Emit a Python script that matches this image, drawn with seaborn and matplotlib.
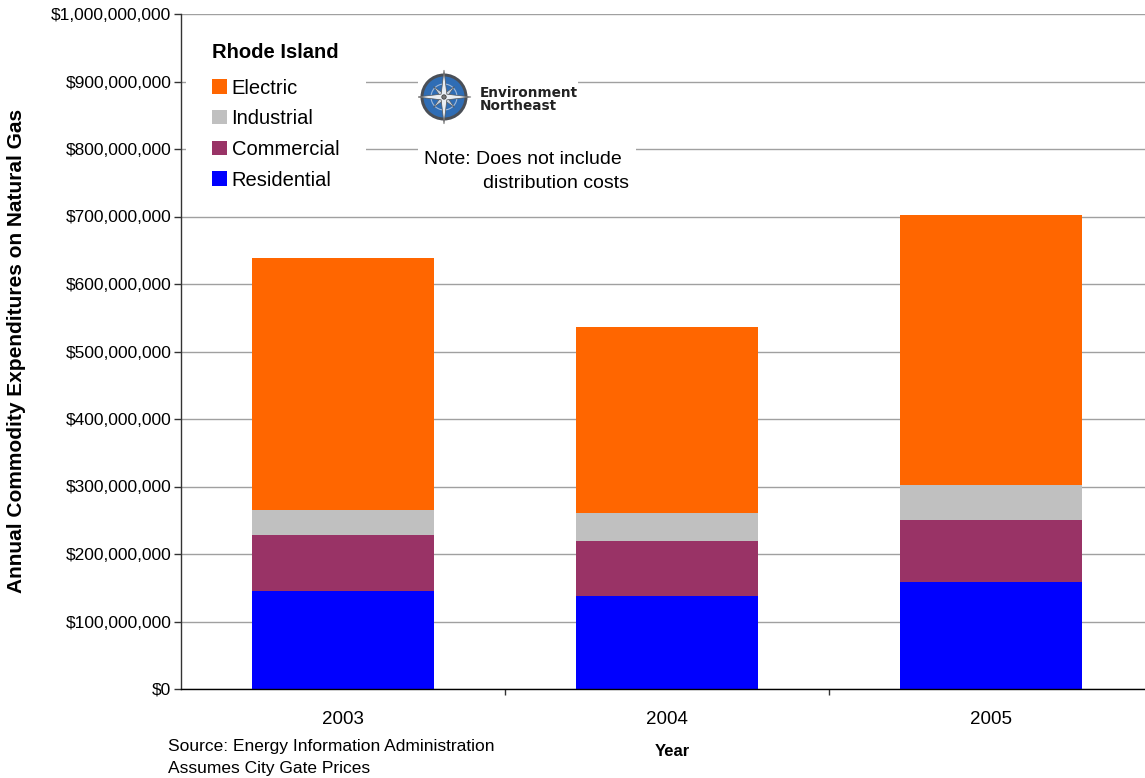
import numpy as np
import pandas as pd
import matplotlib
matplotlib.use("Agg")
import matplotlib.pyplot as plt
from matplotlib.patches import Rectangle, Circle, Polygon, Patch
from matplotlib.ticker import FuncFormatter, FixedLocator
import seaborn as sns

# Annual natural gas commodity expenditures, Rhode Island (US dollars)
years = ["2003", "2004", "2005"]
residential = [145_000_000, 138_000_000, 158_500_000]
commercial = [83_000_000, 81_000_000, 92_000_000]
industrial = [37_000_000, 42_000_000, 51_500_000]
electric = [373_500_000, 275_000_000, 400_000_000]

sectors = ["Residential", "Commercial", "Industrial", "Electric"]
colors = {"Electric": "#FF6600", "Industrial": "#C0C0C0",
          "Commercial": "#993366", "Residential": "#0000FF"}

df = pd.DataFrame({"Year": years, "Residential": residential,
                   "Commercial": commercial, "Industrial": industrial,
                   "Electric": electric})
cum = df[sectors].cumsum(axis=1)
cum["Year"] = df["Year"]

sns.set_style("white")
plt.rcParams["font.family"] = ["Liberation Sans", "DejaVu Sans"]
plt.rcParams["text.color"] = "black"
plt.rcParams["xtick.color"] = "black"
plt.rcParams["ytick.color"] = "black"

W, H = 1145, 778
fig = plt.figure(figsize=(W / 100, H / 100), dpi=100)


def fx(x):
    return x / W


def fy(y):
    return 1 - y / H


ax = fig.add_axes([fx(181), fy(689), fx(1153) - fx(181), fy(14) - fy(689)])

# stacked bars: draw cumulative totals from the top segment down
for s in reversed(sectors):
    sns.barplot(data=cum, x="Year", y=s, color=colors[s], width=0.56,
                errorbar=None, saturation=1, linewidth=0, edgecolor="none",
                ax=ax, zorder=2)

ax.set_xlim(-0.5, 2.5)
ax.set_ylim(0, 1_000_000_000)
ax.yaxis.set_major_locator(FixedLocator(np.arange(0, 1_000_000_001, 100_000_000)))
ax.yaxis.set_major_formatter(FuncFormatter(lambda v, p: f"${v:,.0f}"))
ax.set_axisbelow(True)
ax.grid(axis="y", color="#a0a0a0", lw=1)
ax.grid(axis="x", visible=False)

for side in ["top", "right"]:
    ax.spines[side].set_visible(False)
ax.spines["left"].set_color("#333333")
ax.spines["bottom"].set_color("#000000")
ax.spines["left"].set_linewidth(1)
ax.spines["bottom"].set_linewidth(1)

ax.tick_params(axis="y", left=True, length=5, width=1, color="#333333",
               labelsize=12.5, pad=2)
ax.set_xticks([0, 1, 2])
ax.set_xticklabels(years)
ax.tick_params(axis="x", which="major", length=0, labelsize=13.5, pad=16)
ax.set_xticks([0.5, 1.5, 2.5], minor=True)
ax.tick_params(axis="x", which="minor", bottom=True, length=4, width=1,
               color="#333333")

ax.set_xlabel("")
ax.set_ylabel("")
fig.text(fx(17), fy(351), "Annual Commodity Expenditures on Natural Gas",
         rotation=90, ha="center", va="center", fontsize=15,
         fontweight="bold")
fig.text(fx(672), fy(752), "Year", ha="center", va="center", fontsize=12,
         fontweight="bold")
fig.text(fx(168), fy(746), "Source: Energy Information Administration",
         ha="left", va="center", fontsize=12.5)
fig.text(fx(168), fy(769), "Assumes City Gate Prices",
         ha="left", va="center", fontsize=12.5)

# white panels behind the legend and the note
fig.add_artist(Rectangle((fx(186), fy(198)), fx(366) - fx(186),
                         fy(22) - fy(198), transform=fig.transFigure,
                         fc="white", ec="none", zorder=1))
fig.add_artist(Rectangle((fx(418), fy(196)), fx(636) - fx(418),
                         fy(138) - fy(196), transform=fig.transFigure,
                         fc="white", ec="none", zorder=1))

fig.text(fx(212), fy(53), "Rhode Island", ha="left", va="center",
         fontsize=14.5, fontweight="bold", zorder=3)
handles = [Patch(fc=colors[s], ec="none") for s in reversed(sectors)]
leg = fig.legend(handles, list(reversed(sectors)),
                 loc="upper left", bbox_to_anchor=(fx(212), fy(78.5)),
                 frameon=False, fontsize=14.5, borderpad=0, borderaxespad=0,
                 labelspacing=0.58, handlelength=0.72, handleheight=0.72,
                 handletextpad=0.25, alignment="left")
leg.set_zorder(3)

fig.text(fx(424), fy(159), "Note: Does not include", ha="left", va="center",
         fontsize=14, zorder=3)
fig.text(fx(483), fy(183), "distribution costs", ha="left", va="center",
         fontsize=14, zorder=3)

# Environment Northeast logo
lax = fig.add_axes([fx(418), fy(128), fx(578) - fx(418), fy(68) - fy(128)],
                   zorder=3)
lax.set_xlim(0, 160)
lax.set_ylim(0, 60)
lax.set_facecolor("white")
lax.set_xticks([])
lax.set_yticks([])
for sp in lax.spines.values():
    sp.set_visible(False)
cx, cy = 26, 31
lax.add_patch(Circle((cx, cy), 23.5, fc="#4a4f57", ec="none"))
lax.add_patch(Circle((cx, cy), 20.5, fc="#2f6db5", ec="none"))
lax.add_patch(Circle((cx, cy), 13, fc="none", ec="#9fb8d8", lw=0.8))


def star(r_long, r_short, angle0, n=4):
    pts = []
    for k in range(2 * n):
        a = angle0 + k * np.pi / n
        r = r_long if k % 2 == 0 else r_short
        pts.append((cx + r * np.cos(a), cy + r * np.sin(a)))
    return pts


lax.add_patch(Polygon(star(15, 3, np.pi / 4), fc="#c9d3df", ec="#555", lw=0.4))
lax.add_patch(Polygon(star(27, 4, np.pi / 2), fc="#e8edf3", ec="#555", lw=0.5))
lax.add_patch(Circle((cx, cy), 2.2, fc="#777", ec="#333", lw=0.5))
lax.text(62, 35, "Environment", ha="left", va="center", fontsize=9.8,
         fontweight="bold", color="#222222", family="DejaVu Sans")
lax.text(62, 22, "Northeast", ha="left", va="center", fontsize=9.8,
         fontweight="bold", color="#222222", family="DejaVu Sans")

fig.savefig("out.png", dpi=100)
